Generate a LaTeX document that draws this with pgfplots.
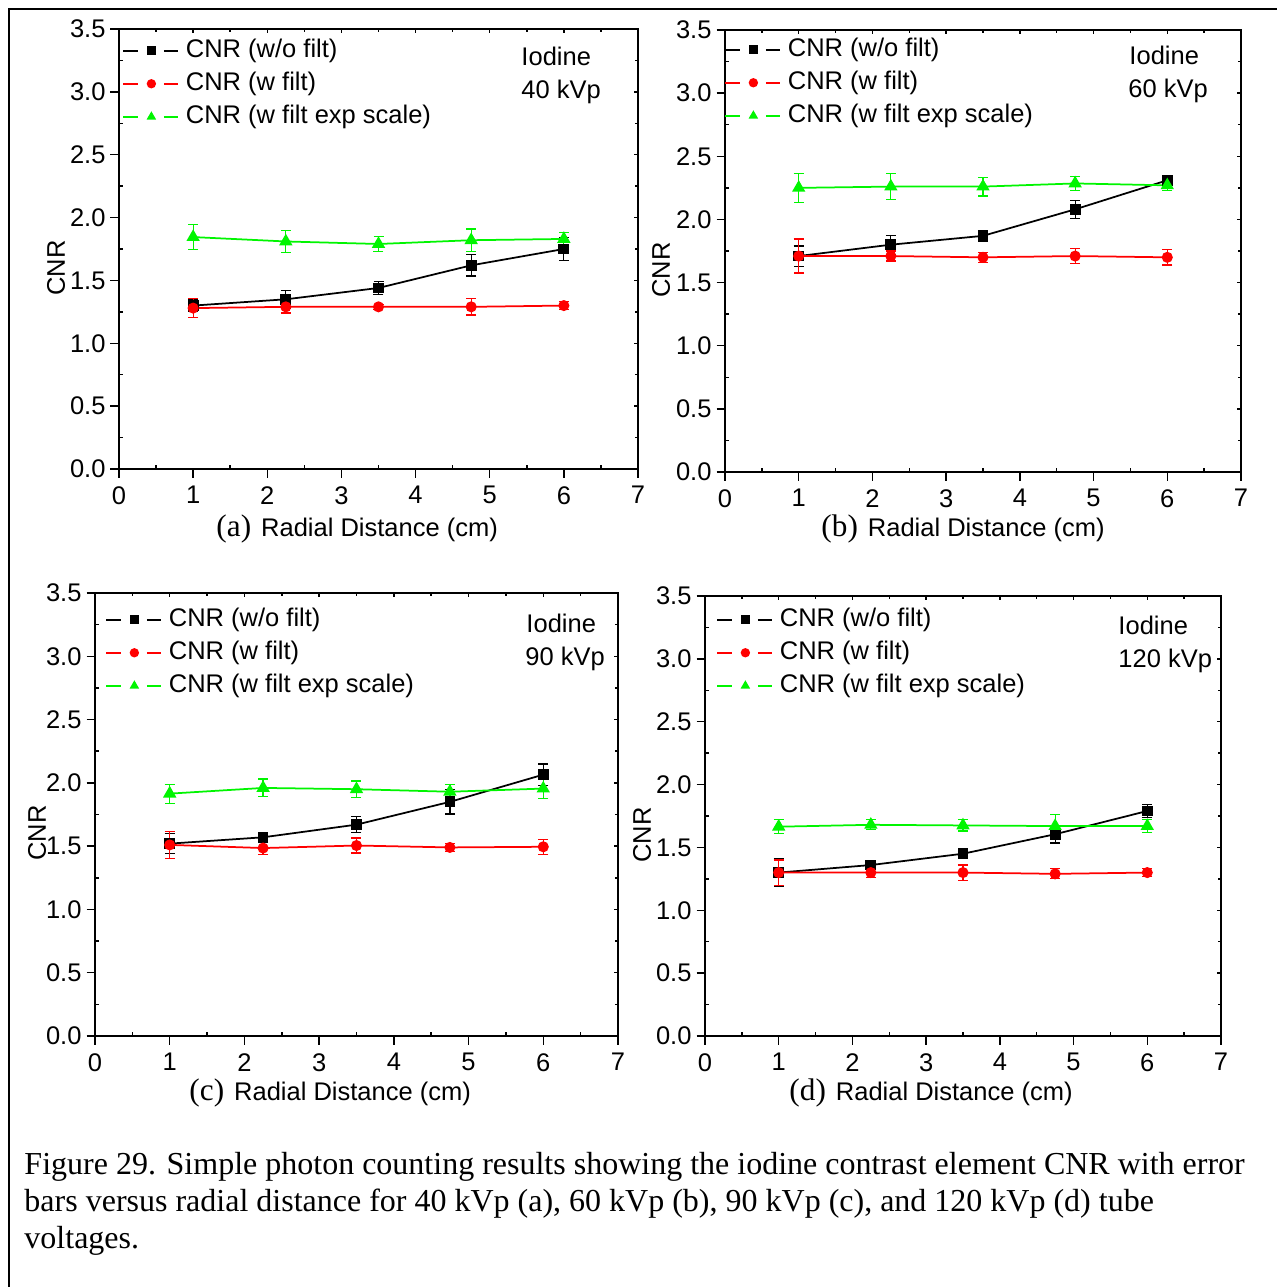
\documentclass[border=0pt]{standalone}
\usepackage{fontspec}
\setmainfont{Liberation Serif}
\setsansfont{Liberation Sans}
\usepackage{pgfplots}
\pgfplotsset{compat=1.18}
\definecolor{cgreen}{RGB}{0,245,0}
\definecolor{cred}{RGB}{255,0,0}
\newcommand{\sfX}{\sffamily\fontsize{10.2}{12}\selectfont}
\pgfplotsset{
  baseax/.style={
    scale only axis, anchor=south west,
    xmin=0, xmax=7, ymin=0, ymax=3.5,
    xtick={0,1,2,3,4,5,6,7},
    ytick={0,0.5,1,1.5,2,2.5,3,3.5},
    minor x tick num=1, minor y tick num=1,
    axis line style={line width=0.8pt},
    every tick/.style={line width=0.6pt, black},
  },
  mirrorax/.style={baseax,
    xticklabels={}, yticklabels={},
    tick align=inside, tick pos=right,
    major tick length=1.6pt, minor tick length=1.2pt,
  },
  cnrax/.style={baseax,
    xticklabels={0,1,2,3,4,5,6,7},
    yticklabels={0.0,0.5,1.0,1.5,2.0,2.5,3.0,3.5},
    tick align=outside, tick pos=left,
    major tick length=3.4pt, minor tick length=-1.6pt,
    ticklabel style={font=\sfX},
    yticklabel style={inner xsep=1.8pt},
    clip=false,
    legend style={at={(rel axis cs:0,1)}, anchor=north west, xshift=1.4pt, yshift=-3.8pt,
      draw=none, fill=none, inner sep=0pt, outer sep=0pt, row sep=4.2pt,
      font=\sfX,
      nodes={inner sep=0pt, text height=7pt, text depth=2pt}},
    legend cell align=left,
    legend image code/.code={
      \draw[#1, mark=none] (0pt,0pt) -- (5.8pt,0pt);
      \draw[#1, mark=none] (16.2pt,0pt) -- (22pt,0pt);
      \draw[#1, mark size=1.5pt] plot coordinates {(11.2pt,0pt)};
      \path[draw=none, fill=none] (0pt,0pt) -- (25pt,0pt);
    },
    error bars/y dir=both, error bars/y explicit,
    error bars/error bar style={line width=0.5pt},
    error bars/error mark options={mark size=2pt, line width=0.5pt, rotate=90},
  },
  sblk/.style={black, line width=0.7pt, mark=square*, mark size=1.8pt},
  sred/.style={cred, line width=0.7pt, mark=*, mark size=1.85pt},
  sgrn/.style={cgreen, line width=0.7pt, mark=triangle*, mark size=2.4pt},
}
\newcommand{\mirror}[4]{\begin{axis}[mirrorax, at={(#1,#2)}, width=#3, height=#4]\end{axis}}
\begin{document}
\begin{tikzpicture}
\useasboundingbox (0pt,0pt) rectangle (510.8pt,-514.8pt);
\draw[line width=0.8pt] (3.6pt,-514.8pt) -- (3.6pt,-3.6pt) -- (510.8pt,-3.6pt);

% (a)
\mirror{47.6pt}{-187.6pt}{207.6pt}{176pt}
\begin{axis}[cnrax, at={(47.6pt,-187.6pt)}, width=207.6pt, height=176pt,
  legend style={yshift=-0.4pt}]
\addplot[sblk] coordinates {(1,1.30) +- (0,0.05) (2.25,1.35) +- (0,0.07) (3.5,1.44) +- (0,0.05) (4.75,1.62) +- (0,0.085) (6,1.75) +- (0,0.09)};
\addplot[sred] coordinates {(1,1.28) +- (0,0.075) (2.25,1.29) +- (0,0.05) (3.5,1.29) +- (0,0.02) (4.75,1.29) +- (0,0.065) (6,1.30) +- (0,0.03)};
\addplot[sgrn] coordinates {(1,1.845) +- (0,0.1) (2.25,1.81) +- (0,0.09) (3.5,1.79) +- (0,0.06) (4.75,1.82) +- (0,0.09) (6,1.83) +- (0,0.05)};
\legend{CNR (w/o filt),CNR (w filt),CNR (w filt exp scale)}
\end{axis}

% (b)
\mirror{290pt}{-188.8pt}{206.4pt}{176.8pt}
\begin{axis}[cnrax, at={(290pt,-188.8pt)}, width=206.4pt, height=176.8pt,
  legend style={xshift=-1.6pt, yshift=0.4pt}]
\addplot[sblk] coordinates {(1,1.71) +- (0,0.08) (2.25,1.80) +- (0,0.075) (3.5,1.87) +- (0,0.04) (4.75,2.08) +- (0,0.07) (6,2.31) +- (0,0.04)};
\addplot[sred] coordinates {(1,1.71) +- (0,0.135) (2.25,1.71) +- (0,0.04) (3.5,1.70) +- (0,0.04) (4.75,1.71) +- (0,0.06) (6,1.70) +- (0,0.06)};
\addplot[sgrn] coordinates {(1,2.25) +- (0,0.115) (2.25,2.26) +- (0,0.105) (3.5,2.26) +- (0,0.075) (4.75,2.285) +- (0,0.055) (6,2.27) +- (0,0.04)};
\legend{CNR (w/o filt),CNR (w filt),CNR (w filt exp scale)}
\end{axis}

% (c)
\mirror{38pt}{-414.4pt}{209.2pt}{177.2pt}
\begin{axis}[cnrax, at={(38pt,-414.4pt)}, width=209.2pt, height=177.2pt,
  legend style={xshift=2.8pt, yshift=-2.4pt}]
\addplot[sblk] coordinates {(1,1.52) +- (0,0.08) (2.25,1.57) +- (0,0.04) (3.5,1.67) +- (0,0.065) (4.75,1.85) +- (0,0.095) (6,2.065) +- (0,0.085)};
\addplot[sred] coordinates {(1,1.51) +- (0,0.105) (2.25,1.485) +- (0,0.05) (3.5,1.505) +- (0,0.06) (4.75,1.49) +- (0,0.03) (6,1.495) +- (0,0.06)};
\addplot[sgrn] coordinates {(1,1.915) +- (0,0.075) (2.25,1.96) +- (0,0.07) (3.5,1.95) +- (0,0.065) (4.75,1.93) +- (0,0.055) (6,1.955) +- (0,0.08)};
\legend{CNR (w/o filt),CNR (w filt),CNR (w filt exp scale)}
\end{axis}

% (d)
\mirror{282pt}{-414.4pt}{206.4pt}{176pt}
\begin{axis}[cnrax, at={(282pt,-414.4pt)}, width=206.4pt, height=176pt,
  legend style={xshift=3.2pt, yshift=-1.2pt}]
\addplot[sblk] coordinates {(1,1.30) +- (0,0.11) (2.25,1.36) +- (0,0.03) (3.5,1.45) +- (0,0.02) (4.75,1.605) +- (0,0.07) (6,1.79) +- (0,0.05)};
\addplot[sred] coordinates {(1,1.30) +- (0,0.10) (2.25,1.30) +- (0,0.04) (3.5,1.30) +- (0,0.06) (4.75,1.29) +- (0,0.04) (6,1.30) +- (0,0.03)};
\addplot[sgrn] coordinates {(1,1.665) +- (0,0.055) (2.25,1.68) +- (0,0.04) (3.5,1.675) +- (0,0.045) (4.75,1.67) +- (0,0.09) (6,1.67) +- (0,0.05)};
\legend{CNR (w/o filt),CNR (w filt),CNR (w filt exp scale)}
\end{axis}

\begin{scope}[x=0.4pt, y=-0.4pt, every node/.style={inner sep=0pt, font=\sfX}]
% Iodine labels
\node[anchor=base west] at (521,65) {Iodine};
\node[anchor=base west] at (521,98) {40 kVp};
\node[anchor=base west] at (1129,64) {Iodine};
\node[anchor=base west] at (1128,97) {60 kVp};
\node[anchor=base west] at (526,632) {Iodine};
\node[anchor=base west] at (525,665) {90 kVp};
\node[anchor=base west] at (1118,634) {Iodine};
\node[anchor=base west] at (1118,667) {120 kVp};
% y labels
\node[rotate=90] at (56,268) {CNR};
\node[rotate=90] at (661,270) {CNR};
\node[rotate=90] at (37,833) {CNR};
\node[rotate=90] at (642,835) {CNR};
% x labels
\node[anchor=west] at (216,529) {{\rmfamily\fontsize{12.5}{14}\selectfont (a)}\hspace{4pt}Radial Distance (cm)};
\node[anchor=west] at (821,529) {{\rmfamily\fontsize{12.5}{14}\selectfont (b)}\hspace{4pt}Radial Distance (cm)};
\node[anchor=west] at (189,1093) {{\rmfamily\fontsize{12.5}{14}\selectfont (c)}\hspace{4pt}Radial Distance (cm)};
\node[anchor=west] at (789,1093) {{\rmfamily\fontsize{12.5}{14}\selectfont (d)}\hspace{4pt}Radial Distance (cm)};
% caption
\begin{scope}[every node/.style={inner sep=0pt, anchor=base west, font=\rmfamily\fontsize{12.8}{15}\selectfont}]
\node at (24,1175) {Figure 29. Simple photon counting results showing the iodine contrast element CNR with error};
\node at (24,1212) {bars versus radial distance for 40 kVp (a), 60 kVp (b), 90 kVp (c), and 120 kVp (d) tube};
\node at (24,1249) {voltages.};
\end{scope}
\end{scope}
\end{tikzpicture}
\end{document}
